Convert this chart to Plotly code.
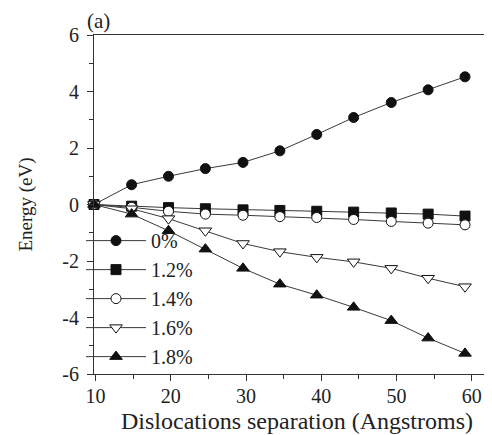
import plotly.graph_objects as go

# dislocation separation (Angstroms)
separation = [9.8, 14.8, 19.7, 24.6, 29.6, 34.5, 39.4, 44.3, 49.3, 54.2, 59.1]

# energy (eV) for each strain
strain_labels = ["0%", "1.2%", "1.4%", "1.6%", "1.8%"]
energy_0 = [0, 0.70, 1.00, 1.27, 1.49, 1.90, 2.48, 3.08, 3.61, 4.06, 4.52]
energy_12 = [0, -0.06, -0.11, -0.15, -0.19, -0.21, -0.24, -0.27, -0.30, -0.34, -0.41]
energy_14 = [0, -0.10, -0.24, -0.34, -0.38, -0.43, -0.46, -0.53, -0.60, -0.66, -0.72]
energy_16 = [0, -0.15, -0.50, -0.93, -1.38, -1.67, -1.87, -2.03, -2.26, -2.61, -2.91]
energy_18 = [0, -0.34, -0.93, -1.58, -2.26, -2.82, -3.21, -3.64, -4.11, -4.73, -5.27]

y_ticks = [-6, -4, -2, 0, 2, 4, 6]
y_tick_text = ["-6", "-4", "-2", "0", "2", "4", "6"]
x_ticks = [10, 20, 30, 40, 50, 60]

series = [energy_0, energy_12, energy_14, energy_16, energy_18]
symbols = ["circle", "square", "circle-open", "triangle-down-open", "triangle-up"]
sizes = [10, 10, 10, 11, 11]

font = "Liberation Serif, Times New Roman, serif"

fig = go.Figure()
for i, (label, energy) in enumerate(zip(strain_labels, series)):
    open_marker = symbols[i].endswith("open")
    fig.add_trace(go.Scatter(
        x=separation,
        y=energy,
        name=label,
        legendgroup=label,
        mode="lines+markers",
        line=dict(color="#3a3a3a", width=1),
        marker=dict(
            symbol=symbols[i].replace("-open", ""),
            size=sizes[i],
            color="white" if open_marker else "#111111",
            line=dict(color="#111111", width=1),
        ),
        cliponaxis=False,
    ))

# panel label above the top-left corner
fig.add_annotation(
    text="(a)", x=0, y=1, xref="paper", yref="paper",
    xanchor="left", yanchor="bottom", showarrow=False,
    font=dict(family=font, size=21, color="#222222"),
    yshift=0, xshift=-9,
)

fig.update_layout(
    width=492,
    height=435,
    margin=dict(l=86, r=0, t=27, b=69, autoexpand=False),
    paper_bgcolor="white",
    plot_bgcolor="white",
    font=dict(family=font, size=19, color="#222222"),
    showlegend=True,
    legend=dict(
        x=-0.032, y=0.451, xanchor="left", yanchor="top",
        bgcolor="rgba(0,0,0,0)",
        font=dict(family=font, size=20, color="#222222"),
        tracegroupgap=0,
        itemwidth=60,
    ),
)

fig.update_xaxes(
    range=[9.8, 63.75],
    tickvals=x_ticks,
    ticks="outside", ticklen=6, tickwidth=1, tickcolor="#333333",
    minor=dict(dtick=5, tick0=0, ticks="outside", ticklen=4, tickcolor="#333333"),
    showline=True, linecolor="#333333", linewidth=1, mirror=True,
    showgrid=False, zeroline=False,
    tickfont=dict(size=20),
    ticklabelstandoff=-2,
    title=dict(text="Dislocations separation (Angstroms)", font=dict(size=24), standoff=6),
)

fig.update_yaxes(
    range=[-6, 6],
    tickvals=y_ticks, ticktext=y_tick_text,
    ticks="outside", ticklen=6, tickwidth=1, tickcolor="#333333",
    minor=dict(dtick=1, tick0=0, ticks="outside", ticklen=4, tickcolor="#333333"),
    showline=True, linecolor="#333333", linewidth=1, mirror=False,
    showgrid=False, zeroline=False,
    tickfont=dict(size=20),
    ticklabelstandoff=4,
    title=dict(text="Energy (eV)", font=dict(size=19), standoff=24),
)

fig.write_html("out.html")
